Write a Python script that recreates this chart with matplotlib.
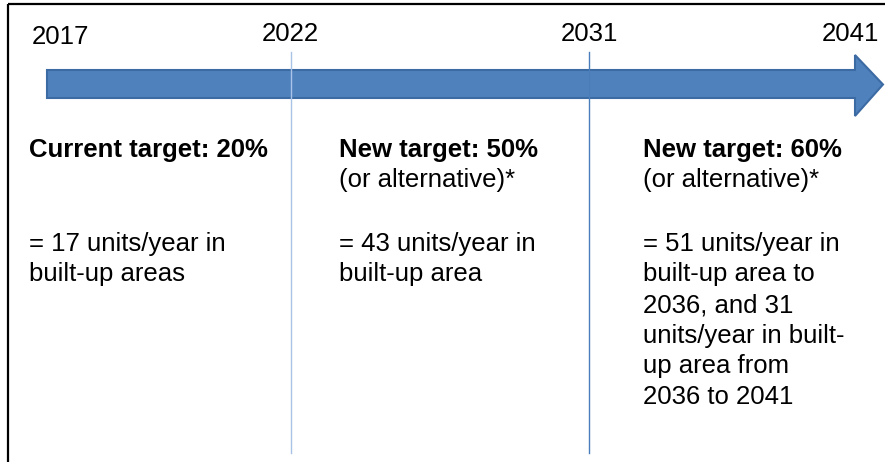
import matplotlib.pyplot as plt
from matplotlib.patches import Polygon

plt.rcParams['font.family'] = ['Liberation Sans', 'DejaVu Sans']

# timeline content
years = ["2017", "2022", "2031", "2041"]
headings = ["Current target: 20%", "New target: 50%", "New target: 60%"]
subheadings = ["", "(or alternative)*", "(or alternative)*"]
details = [
    ["= 17 units/year in", "built-up areas"],
    ["= 43 units/year in", "built-up area"],
    ["= 51 units/year in", "built-up area to", "2036, and 31",
     "units/year in built-", "up area from", "2036 to 2041"],
]

# layout (pixels)
W, H = 885, 462
year_x = [32, 290, 589, 879]
year_ha = ["left", "center", "center", "right"]
year_y = [44, 41, 41, 41]
col_x = [29, 339, 643]
divider_x = [291, 589]
divider_col = ["#a9c3e6", "#4a7ebb"]
fs = 18.5

fig = plt.figure(figsize=(W / 100, H / 100), dpi=100)
ax = fig.add_axes([0, 0, 1, 1])
ax.set_xlim(0, W)
ax.set_ylim(H, 0)
ax.axis("off")

# frame: top and left edges only
ax.plot([8, W], [4, 4], color="black", lw=1.6, solid_capstyle="butt")
ax.plot([8, 8], [4, H], color="black", lw=1.6, solid_capstyle="butt")

# dividers
for x, c in zip(divider_x, divider_col):
    ax.plot([x, x], [52, 453], color=c, lw=1.0)

# arrow
arrow = Polygon([(47, 70), (855, 70), (855, 55), (883, 84.5),
                 (855, 116), (855, 98), (47, 98)],
                closed=True, facecolor="#4f81bd", edgecolor="#3c6aa3", lw=1.5)
ax.add_patch(arrow)

for t, x, ha, y in zip(years, year_x, year_ha, year_y):
    ax.text(x, y, t, ha=ha, va="baseline", fontsize=fs, color="black")

for i, x in enumerate(col_x):
    ax.text(x, 157, headings[i], ha="left", va="baseline", fontsize=fs,
            fontweight="bold", color="black")
    if subheadings[i]:
        ax.text(x, 187, subheadings[i], ha="left", va="baseline",
                fontsize=fs, color="black")
    for j, line in enumerate(details[i]):
        ax.text(x, 251 + 30.5 * j, line, ha="left", va="baseline",
                fontsize=fs, color="black")

fig.savefig("out.png", dpi=100)
